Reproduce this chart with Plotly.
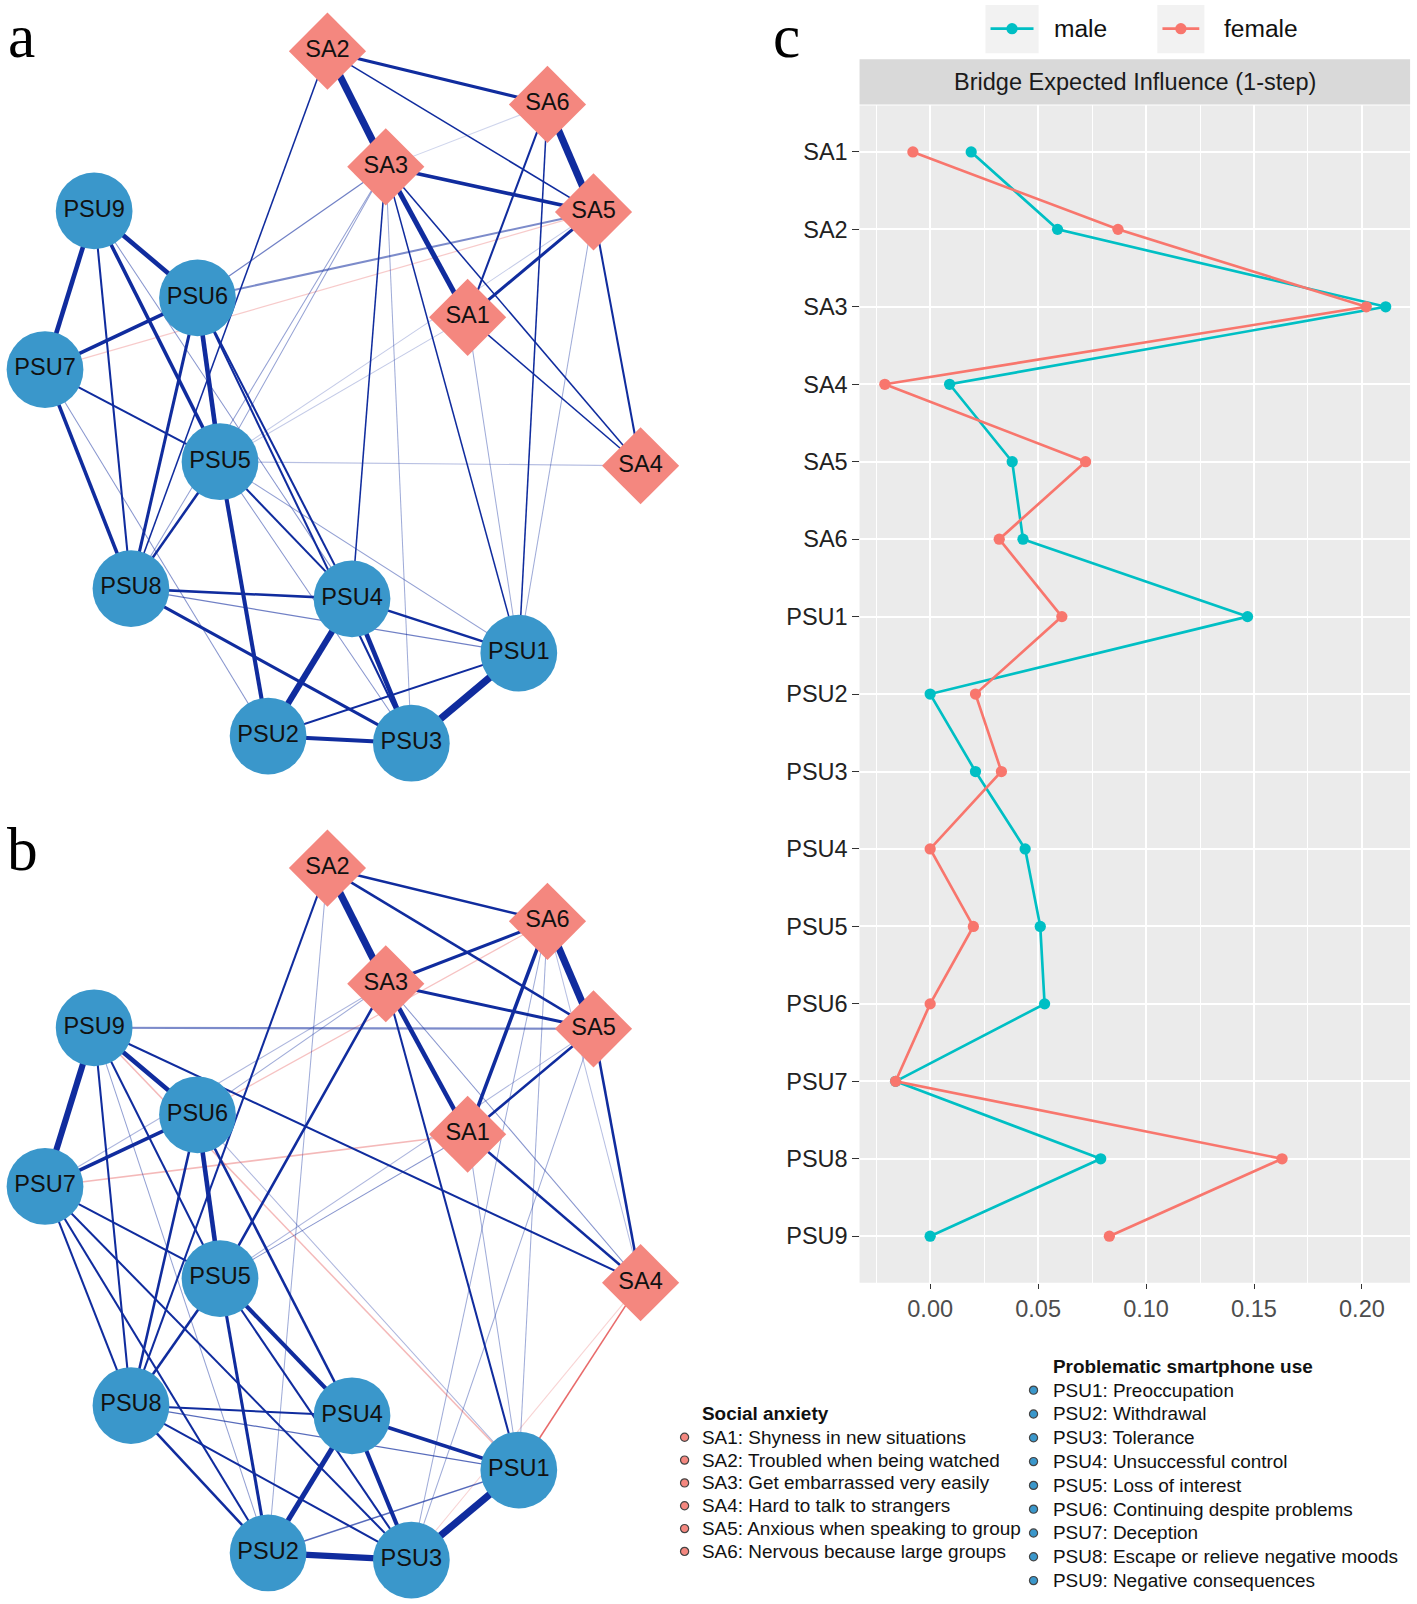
import plotly.graph_objects as go

W, H = 1417, 1604          # reference pixel frame used for every coordinate
S = 1.0235                 # compensation for the page scale seen in the render

# ---------------- data ----------------
NODES = ["SA1", "SA2", "SA3", "SA4", "SA5", "SA6",
         "PSU1", "PSU2", "PSU3", "PSU4", "PSU5", "PSU6", "PSU7", "PSU8", "PSU9"]
# shared network layout (pixel space of panel a); panel b is the same layout shifted down
NODE_X = [457, 320, 377, 626, 580, 535, 507, 262, 402, 344, 215, 193, 44, 128, 92]
NODE_Y = [310, 50, 163, 455, 207, 102, 638, 719, 726, 585, 451, 291, 361, 575, 206]
PANEL_SHIFT = {"a": 0, "b": 798}

MALE = [0.019, 0.059, 0.211, 0.009, 0.038, 0.043, 0.147, 0.000, 0.021,
        0.044, 0.051, 0.053, -0.016, 0.079, 0.000]
FEMALE = [-0.008, 0.087, 0.202, -0.021, 0.072, 0.032, 0.061, 0.021, 0.033,
          0.000, 0.020, 0.000, -0.016, 0.163, 0.083]

# edges: (node, node, width, opacity, sign)
EDGES_A = [
    ("SA2", "SA3", 7, 1, 1), ("SA6", "SA5", 7, 1, 1), ("SA2", "SA6", 3, 1, 1),
    ("SA3", "SA5", 3.5, 1, 1), ("SA3", "SA1", 5, 1, 1), ("SA2", "SA5", 1.5, 1, 1),
    ("SA6", "SA1", 2, 1, 1), ("SA5", "SA1", 3, 1, 1), ("SA6", "SA3", 1, 0.2, 1),
    ("SA5", "SA4", 2, 1, 1), ("SA1", "SA4", 1.5, 1, 1), ("SA3", "SA4", 1.5, 1, 1),
    ("PSU9", "PSU7", 4.5, 1, 1), ("PSU9", "PSU6", 4.5, 1, 1), ("PSU9", "PSU8", 2, 1, 1),
    ("PSU9", "PSU5", 3.5, 1, 1), ("PSU9", "PSU4", 1, 0.5, 1), ("PSU6", "PSU7", 3.5, 1, 1),
    ("PSU6", "PSU5", 4.5, 1, 1), ("PSU6", "PSU8", 3, 1, 1), ("PSU6", "PSU4", 2, 1, 1),
    ("PSU6", "PSU3", 2, 1, 1), ("PSU7", "PSU5", 2, 1, 1), ("PSU7", "PSU8", 3.5, 1, 1),
    ("PSU7", "PSU2", 1, 0.5, 1), ("PSU5", "PSU8", 2.5, 1, 1), ("PSU5", "PSU2", 4, 1, 1),
    ("PSU5", "PSU4", 2, 1, 1), ("PSU5", "PSU3", 1, 0.5, 1), ("PSU5", "PSU1", 1, 0.45, 1),
    ("PSU8", "PSU4", 2.5, 1, 1), ("PSU8", "PSU1", 1.2, 0.6, 1), ("PSU8", "PSU3", 3, 1, 1),
    ("PSU4", "PSU2", 6, 1, 1), ("PSU4", "PSU3", 4.5, 1, 1), ("PSU4", "PSU1", 2.5, 1, 1),
    ("PSU2", "PSU3", 4, 1, 1), ("PSU2", "PSU1", 2, 1, 1), ("PSU3", "PSU1", 7, 1, 1),
    ("SA2", "PSU8", 1.5, 1, 1), ("SA3", "PSU6", 1.2, 0.6, 1), ("SA3", "PSU5", 1, 0.45, 1),
    ("SA3", "PSU8", 1, 0.45, 1), ("SA3", "PSU4", 1.5, 1, 1), ("SA3", "PSU3", 1, 0.4, 1),
    ("SA3", "PSU1", 1.5, 1, 1), ("SA5", "PSU6", 2, 0.55, 1), ("SA5", "PSU7", 1.2, 0.3, -1),
    ("SA5", "PSU5", 1, 0.25, 1), ("SA5", "PSU1", 1, 0.4, 1), ("SA6", "PSU1", 1.5, 1, 1),
    ("SA1", "PSU1", 1, 0.4, 1), ("SA1", "PSU5", 1, 0.25, 1), ("SA4", "PSU5", 1.2, 0.3, 1),
]
EDGES_B = [
    ("SA2", "SA3", 7, 1, 1), ("SA6", "SA5", 7, 1, 1), ("SA2", "SA6", 2.5, 1, 1),
    ("SA2", "SA5", 2.5, 1, 1), ("SA3", "SA6", 3, 1, 1), ("SA3", "SA5", 3, 1, 1),
    ("SA3", "SA1", 4.5, 1, 1), ("SA6", "SA1", 3.5, 1, 1), ("SA5", "SA1", 2.5, 1, 1),
    ("SA1", "SA4", 2.5, 1, 1), ("SA5", "SA4", 2.5, 1, 1), ("SA3", "SA4", 1, 0.5, 1),
    ("SA6", "SA4", 1, 0.3, 1),
    ("PSU9", "PSU7", 6, 1, 1), ("PSU9", "PSU6", 4.5, 1, 1), ("PSU9", "PSU8", 2, 1, 1),
    ("PSU9", "PSU5", 2, 1, 1), ("PSU9", "PSU2", 1, 0.45, 1), ("PSU9", "PSU1", 1.5, 0.4, -1),
    ("PSU9", "SA4", 2, 1, 1), ("PSU9", "SA5", 2, 0.55, 1),
    ("PSU6", "PSU7", 3.5, 1, 1), ("PSU6", "PSU5", 4.5, 1, 1), ("PSU6", "PSU8", 2.5, 1, 1),
    ("PSU6", "PSU4", 2.5, 1, 1), ("PSU6", "PSU1", 1, 0.35, 1), ("PSU6", "SA6", 1.2, 0.35, -1),
    ("PSU7", "PSU5", 2, 1, 1), ("PSU7", "PSU8", 2, 1, 1), ("PSU7", "PSU2", 2, 1, 1),
    ("PSU7", "PSU3", 2, 1, 1), ("PSU7", "SA1", 1.5, 0.4, -1), ("PSU7", "SA3", 1, 0.35, 1),
    ("PSU5", "PSU8", 2.5, 1, 1), ("PSU5", "PSU2", 3, 1, 1), ("PSU5", "PSU4", 4, 1, 1),
    ("PSU5", "PSU3", 2, 1, 1), ("SA3", "PSU5", 2.5, 1, 1), ("SA2", "PSU8", 2, 1, 1),
    ("SA2", "PSU2", 1, 0.4, 1), ("SA3", "PSU6", 1, 0.4, 1), ("SA1", "PSU5", 1, 0.5, 1),
    ("SA1", "PSU1", 1, 0.4, 1), ("SA3", "PSU1", 2, 1, 1), ("SA6", "PSU1", 1, 0.4, 1),
    ("SA6", "PSU3", 1, 0.4, 1), ("SA5", "PSU3", 1, 0.4, 1), ("SA5", "PSU5", 1, 0.35, 1),
    ("SA4", "PSU1", 1.5, 0.85, -1), ("SA4", "PSU3", 1, 0.25, -1),
    ("PSU8", "PSU4", 2, 1, 1), ("PSU8", "PSU1", 1.2, 0.7, 1), ("PSU8", "PSU3", 2, 1, 1),
    ("PSU8", "PSU2", 2.5, 1, 1), ("PSU4", "PSU2", 5, 1, 1), ("PSU4", "PSU3", 4, 1, 1),
    ("PSU4", "PSU1", 3.5, 1, 1), ("PSU2", "PSU1", 1.5, 0.7, 1), ("PSU2", "PSU3", 6, 1, 1),
    ("PSU3", "PSU1", 7, 1, 1),
]

SA_LEGEND = ["SA1: Shyness in new situations", "SA2: Troubled when being watched",
             "SA3: Get embarrassed very easily", "SA4: Hard to talk to strangers",
             "SA5: Anxious when speaking to group", "SA6: Nervous because large groups"]
PSU_LEGEND = ["PSU1: Preoccupation", "PSU2: Withdrawal", "PSU3: Tolerance",
              "PSU4: Unsuccessful control", "PSU5: Loss of interest",
              "PSU6: Continuing despite problems", "PSU7: Deception",
              "PSU8: Escape or relieve negative moods", "PSU9: Negative consequences"]
X_TICKS = [0.0, 0.05, 0.10, 0.15, 0.20]

# ---------------- style ----------------
POS_RGB = (16, 44, 158)
NEG_RGB = (228, 80, 80)
CIRCLE_COL = "#3A97CB"
DIAMOND_COL = "#F4877F"
MALE_COL = "#00BFC4"
FEMALE_COL = "#F8766D"
SANS = "Liberation Sans, Arial, sans-serif"
SERIF = "Liberation Serif, Times New Roman, serif"

fig = go.Figure()
pos = {n: (x, y) for n, x, y in zip(NODES, NODE_X, NODE_Y)}

for panel, edges in (("a", EDGES_A), ("b", EDGES_B)):
    dy = PANEL_SHIFT[panel]
    for u, v, w, a, s in sorted(edges, key=lambda e: (e[3], e[2])):
        r, g, b = POS_RGB if s > 0 else NEG_RGB
        fig.add_trace(go.Scatter(
            x=[pos[u][0], pos[v][0]], y=[pos[u][1] + dy, pos[v][1] + dy],
            mode="lines", line=dict(color=f"rgba({r},{g},{b},{a})", width=w * S),
            hoverinfo="skip", showlegend=False, xaxis="x", yaxis="y"))
    sa = [n for n in NODES if n.startswith("SA")]
    psu = [n for n in NODES if n.startswith("PSU")]
    fig.add_trace(go.Scatter(
        x=[pos[n][0] for n in psu], y=[pos[n][1] + dy for n in psu],
        mode="markers+text", text=psu, textposition="middle center",
        textfont=dict(family=SANS, size=23 * S, color="#111111"),
        marker=dict(symbol="circle", size=75 * S, color=CIRCLE_COL, line=dict(width=0)),
        hoverinfo="skip", showlegend=False, xaxis="x", yaxis="y"))
    fig.add_trace(go.Scatter(
        x=[pos[n][0] for n in sa], y=[pos[n][1] + dy for n in sa],
        mode="markers+text", text=sa, textposition="middle center",
        textfont=dict(family=SANS, size=23 * S, color="#111111"),
        marker=dict(symbol="diamond", size=58 * S, color=DIAMOND_COL, line=dict(width=0)),
        hoverinfo="skip", showlegend=False, xaxis="x", yaxis="y"))

# ---------------- panel c ----------------
for vals, col, name in ((MALE, MALE_COL, "male"), (FEMALE, FEMALE_COL, "female")):
    fig.add_trace(go.Scatter(
        x=vals, y=NODES, mode="lines+markers", name=name,
        line=dict(color=col, width=2.6 * S), marker=dict(color=col, size=11 * S),
        showlegend=False, xaxis="x2", yaxis="y2"))

# manual legend (top)
LEG_Y = 28
for kx0, kx1, tx, col, name in ((963, 1015, 1028, MALE_COL, "male"),
                                 (1131, 1177, 1194, FEMALE_COL, "female")):
    fig.add_shape(type="rect", xref="x", yref="y", x0=kx0, x1=kx1, y0=5, y1=52,
                  fillcolor="#F2F2F2", line=dict(width=0), layer="below")
    fig.add_shape(type="line", xref="x", yref="y", x0=kx0 + 5, x1=kx1 - 5,
                  y0=LEG_Y, y1=LEG_Y, line=dict(color=col, width=2.6 * S))
    fig.add_trace(go.Scatter(x=[(kx0 + kx1) / 2], y=[LEG_Y], mode="markers",
                             marker=dict(color=col, size=11 * S), hoverinfo="skip",
                             showlegend=False, xaxis="x", yaxis="y"))
    fig.add_annotation(x=tx, y=LEG_Y, xref="x", yref="y", text=name, showarrow=False,
                       xanchor="left", yanchor="middle",
                       font=dict(family=SANS, size=24 * S, color="#111111"))

# strip
fig.add_shape(type="rect", xref="x", yref="y", x0=840, x1=1378, y0=58, y1=102,
              fillcolor="#D9D9D9", line=dict(width=0))
fig.add_annotation(x=1109, y=80, xref="x", yref="y", text="Bridge Expected Influence (1-step)",
                   showarrow=False, font=dict(family=SANS, size=23 * S, color="#1A1A1A"))
# panel background
fig.add_shape(type="rect", xref="x2 domain", yref="y2 domain", x0=0, x1=1, y0=0, y1=1,
              fillcolor="#EBEBEB", line=dict(width=0), layer="below")

# ---------------- bottom legend ----------------
leg_pts_x, leg_pts_y, leg_cols = [], [], []
LEG_FONT = dict(family=SANS, size=18.5 * S, color="#111111")
fig.add_annotation(x=684, y=1381, xref="x", yref="y", text="<b>Social anxiety</b>",
                   showarrow=False, xanchor="left", yanchor="middle", font=LEG_FONT)
for i, t in enumerate(SA_LEGEND):
    yy = 1404 + i * 22.3
    fig.add_annotation(x=684, y=yy, xref="x", yref="y", text=t, showarrow=False,
                       xanchor="left", yanchor="middle", font=LEG_FONT)
    leg_pts_x.append(669); leg_pts_y.append(yy); leg_cols.append(DIAMOND_COL)
fig.add_annotation(x=1027, y=1335, xref="x", yref="y", text="<b>Problematic smartphone use</b>",
                   showarrow=False, xanchor="left", yanchor="middle", font=LEG_FONT)
for i, t in enumerate(PSU_LEGEND):
    yy = 1358 + i * 23.25
    fig.add_annotation(x=1027, y=yy, xref="x", yref="y", text=t, showarrow=False,
                       xanchor="left", yanchor="middle", font=LEG_FONT)
    leg_pts_x.append(1010); leg_pts_y.append(yy); leg_cols.append(CIRCLE_COL)
fig.add_trace(go.Scatter(x=leg_pts_x, y=leg_pts_y, mode="markers",
                         marker=dict(color=leg_cols, size=8 * S,
                                     line=dict(color="#444444", width=1.2)),
                         hoverinfo="skip", showlegend=False, xaxis="x", yaxis="y"))

# panel letters
for letter, lx, ly in (("a", 21, 0), ("b", 22, 794), ("c", 769, 0)):
    fig.add_annotation(x=lx, y=ly, xref="x", yref="y", text=letter, showarrow=False,
                       xanchor="center", yanchor="top",
                       font=dict(family=SERIF, size=60 * S, color="#000000"))

# ---------------- layout ----------------
fig.update_layout(
    width=round(W * S), height=round(H * S), autosize=False,
    margin=dict(l=0, r=0, t=0, b=0),
    paper_bgcolor="white", plot_bgcolor="rgba(0,0,0,0)",
    xaxis=dict(domain=[0, 1], range=[0, W], visible=False, fixedrange=True),
    yaxis=dict(domain=[0, 1], range=[H, 0], visible=False, fixedrange=True),
    xaxis2=dict(domain=[840 / W, 1378 / W], anchor="y2", range=[-0.0327, 0.2223],
                tickvals=X_TICKS, ticktext=[f"{v:.2f}" for v in X_TICKS],
                showgrid=True, gridcolor="white", gridwidth=1.8 * S, zeroline=False,
                ticks="outside", ticklen=5 * S, tickwidth=1.2, tickcolor="#333333",
                tickfont=dict(family=SANS, size=23 * S, color="#4D4D4D"),
                minor=dict(dtick=0.025, tick0=0.0, showgrid=True, gridcolor="white",
                           gridwidth=0.9 * S, ticks=""),
                showline=False, fixedrange=True),
    yaxis2=dict(domain=[1 - 1253 / H, 1 - 103 / H], anchor="x2", type="category",
                categoryorder="array", categoryarray=NODES, range=[14.6, -0.6],
                showgrid=True, gridcolor="white", gridwidth=1.8 * S, zeroline=False,
                ticks="outside", ticklen=6 * S, tickwidth=1.2, tickcolor="#333333",
                tickfont=dict(family=SANS, size=23 * S, color="#222222"),
                showline=False, fixedrange=True),
)

fig.write_html("out.html", config={"displayModeBar": False},
               post_script="document.body.style.margin='0';document.body.style.overflow='hidden';")
